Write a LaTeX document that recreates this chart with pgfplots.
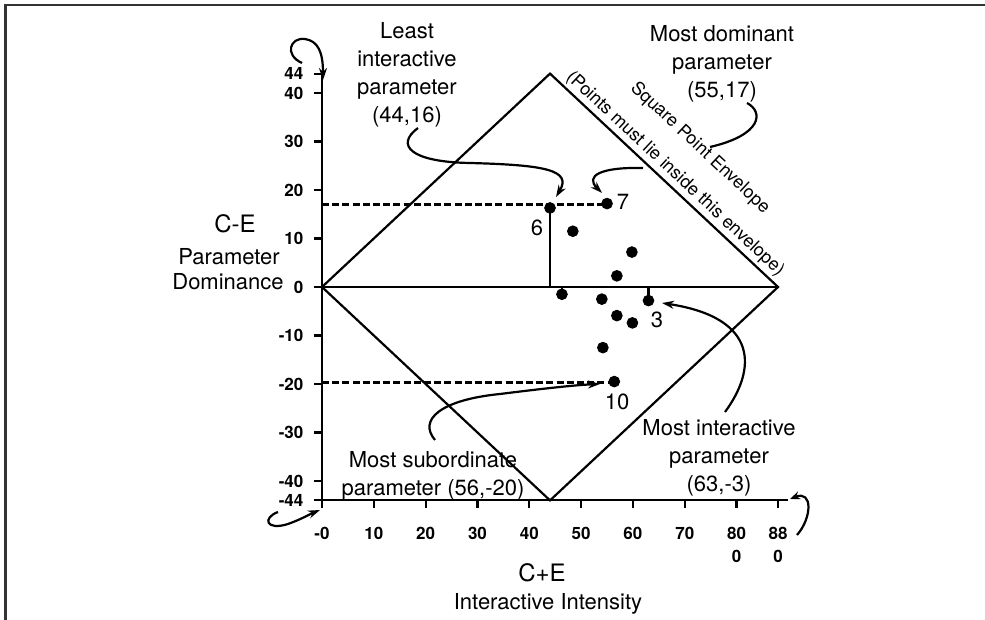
\documentclass[border=0pt]{standalone}
\usepackage{fontspec}
\setmainfont{TeX Gyre Heros}
\usepackage{pgfplots}
\pgfplotsset{compat=1.18}
\usetikzlibrary{arrows.meta}
\begin{document}
\begin{tikzpicture}
\useasboundingbox (0,0) rectangle (492.5pt,310pt);
\draw[line width=1.3pt, black!80] (2.6pt,0) -- (2.6pt,307.4pt) -- (492.5pt,307.4pt);
\begin{axis}[
  at={(161pt,59.8pt)}, anchor=south west,
  scale only axis, width=233.2pt, height=213.4pt,
  xmin=0, xmax=90, ymin=-44, ymax=44,
  axis x line=bottom, axis y line=left,
  axis line style={-, line width=1.1pt},
  tick align=outside, major tick length=3.8pt,
  tick style={line width=1.1pt, black},
  xtick={0,10,20,30,40,50,60,70,80,88},
  xticklabels={-0,10,20,30,40,50,60,70,{80\\0},{88\\0}},
  ytick={-44,-40,-30,-20,-10,0,10,20,30,40,44},
  yticklabels={-44,-40,-30,-20,-10,0,10,20,30,40,44},
  xticklabel style={align=center, font=\fontsize{8.5}{11.5}\selectfont\bfseries, yshift=-6pt},
  yticklabel style={font=\fontsize{8.5}{9}\selectfont\bfseries, xshift=-2pt},
  clip=false,
]
% square point envelope
\addplot[black, line width=1.1pt] coordinates {(0,0) (44,44) (88,0) (44,-44) (0,0)};
\addplot[black, line width=1.1pt] coordinates {(0,0) (88,0)};
% reference lines
\addplot[black, line width=1.1pt, dash pattern=on 3.5pt off 1.6pt] coordinates {(0,17) (55,17)};
\addplot[black, line width=1.1pt, dash pattern=on 3.5pt off 1.6pt] coordinates {(0,-19.7) (56.4,-19.7)};
\addplot[black, line width=1.1pt] coordinates {(44,0) (44,17)};
\addplot[black, line width=1.1pt] coordinates {(46.3,0) (46.3,-1.5)};
\addplot[black, line width=1.1pt] coordinates {(63,0) (63,-2.8)};
% parameters
\addplot[only marks, mark=*, mark size=2.7pt, black] coordinates {
  (44,16.3) (55,17.2) (48.4,11.5) (59.8,7.2) (56.9,2.3)
  (46.3,-1.5) (54,-2.5) (63,-2.8) (56.9,-5.9) (59.9,-7.4)
  (54.2,-12.5) (56.4,-19.5)
};
\end{axis}
\begin{scope}[yshift=310pt, x=0.5pt, y=-0.5pt, line width=1.1pt]
\tikzset{txt/.style={font=\fontsize{11}{14}\selectfont, align=center, inner sep=0pt}}
% axis titles
\node[font=\fontsize{12}{13}\selectfont, inner sep=0pt] at (235,224) {C-E};
\node[txt] at (229,257) {Parameter};
\node[txt] at (228,282) {Dominance};
\node[font=\fontsize{12}{13}\selectfont, inner sep=0pt] at (542,573) {C+E};
\node[txt] at (548,604) {Interactive Intensity};
% point numbers
\node[txt] at (537,228) {6};
\node[txt] at (623,202) {7};
\node[txt] at (657,320) {3};
\node[txt] at (617,402) {10};
% annotations
\node[txt] at (407,75) {Least\\interactive\\parameter\\(44,16)};
\node[txt] at (722,64) {Most dominant\\parameter\\(55,17)};
\node[txt] at (433,476) {Most subordinate\\parameter (56,-20)};
\node[txt] at (719,458) {Most interactive\\parameter\\(63,-3)};
\node[font=\fontsize{9}{10}\selectfont, rotate=-43, inner sep=0pt] at (700,148) {Square Point Envelope};
\node[font=\fontsize{9}{10}\selectfont, rotate=-43, inner sep=0pt] at (675,174) {(Points must lie inside this envelope)};
% curved arrows
\draw[-{Stealth[length=6pt,width=4pt]}] (302,63) .. controls (284,55) and (290,37) .. (305,39) .. controls (318,41) and (323,52) .. (323,80);
\draw[-{Stealth[length=6pt,width=4pt]}] (278,512) .. controls (262,518) and (266,531) .. (288,524) .. controls (302,519) and (310,514) .. (320,510);
\draw[-{Stealth[length=5pt,width=4pt]}] (797,535) .. controls (812,518) and (813,490) .. (790,499);
\draw[-{Stealth[length=6pt,width=4pt]}] (418,128) .. controls (395,145) and (410,162) .. (470,163) .. controls (545,165) and (572,170) .. (556,197);
\draw[-{Stealth[length=6pt,width=4pt]}] (643,168) .. controls (600,167) and (585,176) .. (602,193);
\draw (747,103) .. controls (764,112) and (762,135) .. (710,147);
\draw[-{Stealth[length=6pt,width=4pt]}] (725,412) .. controls (756,370) and (760,318) .. (662,303);
\draw[-{Stealth[length=6pt,width=4pt]}] (435,440) .. controls (418,420) and (440,400) .. (500,394) .. controls (540,389) and (575,385) .. (600,384);
\end{scope}
\end{tikzpicture}
\end{document}
